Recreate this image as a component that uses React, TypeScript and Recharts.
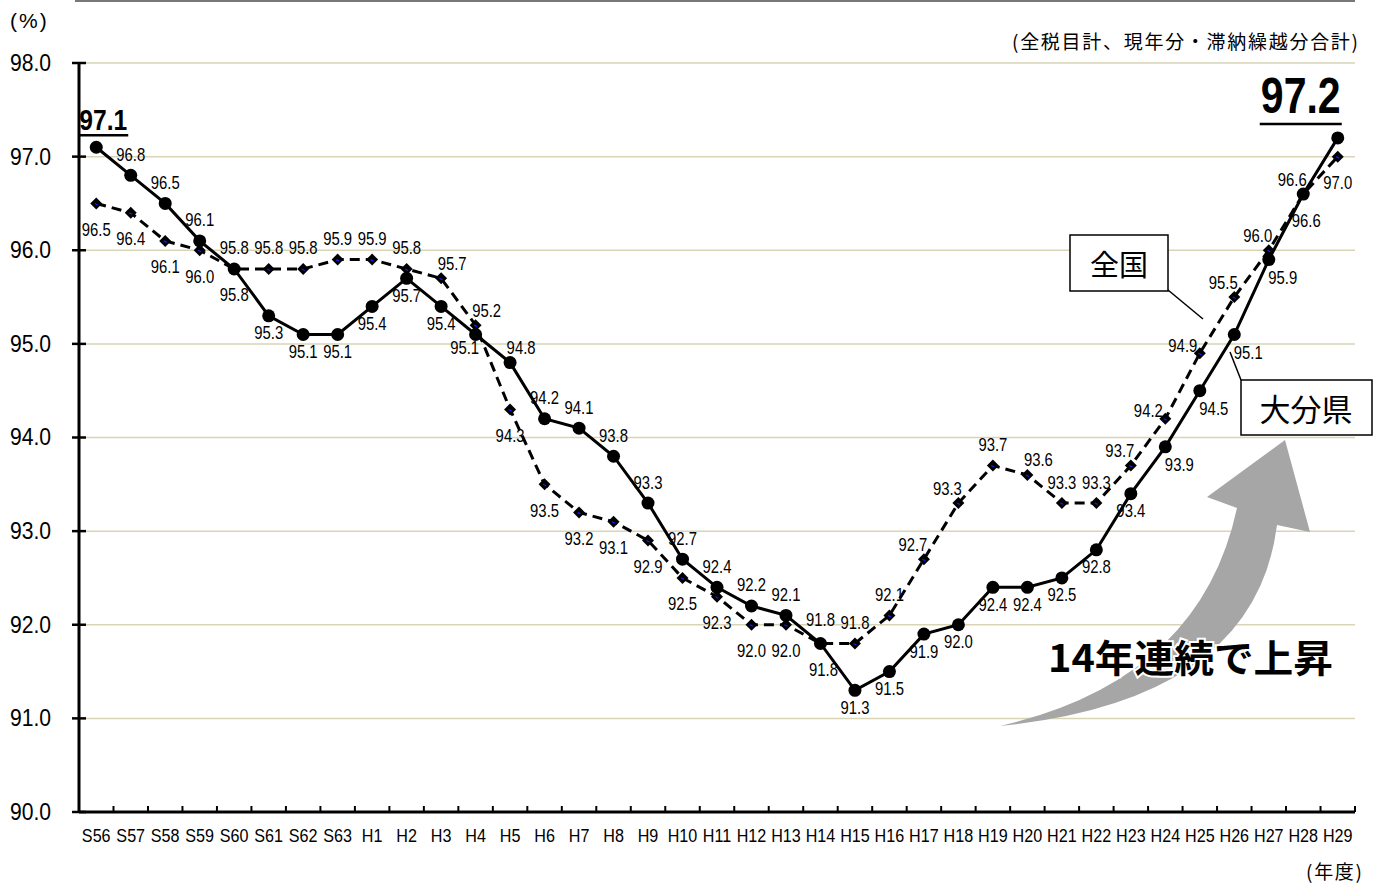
import { LineChart, Line, XAxis, YAxis, CartesianGrid, LabelList } from 'recharts';

// 年度
const years = [
  'S56', 'S57', 'S58', 'S59', 'S60', 'S61', 'S62', 'S63',
  'H1', 'H2', 'H3', 'H4', 'H5', 'H6', 'H7', 'H8', 'H9', 'H10',
  'H11', 'H12', 'H13', 'H14', 'H15', 'H16', 'H17', 'H18', 'H19', 'H20',
  'H21', 'H22', 'H23', 'H24', 'H25', 'H26', 'H27', 'H28', 'H29',
];

// 大分県 徴収率 (%)
const oita = [
  97.1, 96.8, 96.5, 96.1, 95.8, 95.3, 95.1, 95.1,
  95.4, 95.7, 95.4, 95.1, 94.8, 94.2, 94.1, 93.8, 93.3, 92.7,
  92.4, 92.2, 92.1, 91.8, 91.3, 91.5, 91.9, 92.0, 92.4, 92.4,
  92.5, 92.8, 93.4, 93.9, 94.5, 95.1, 95.9, 96.6, 97.2,
];

// 全国 徴収率 (%)
const national = [
  96.5, 96.4, 96.1, 96.0, 95.8, 95.8, 95.8, 95.9,
  95.9, 95.8, 95.7, 95.2, 94.3, 93.5, 93.2, 93.1, 92.9, 92.5,
  92.3, 92.0, 92.0, 91.8, 91.8, 92.1, 92.7, 93.3, 93.7, 93.6,
  93.3, 93.3, 93.7, 94.2, 94.9, 95.5, 96.0, 96.6, 97.0,
];

const yTicks = [90, 91, 92, 93, 94, 95, 96, 97, 98];

// where each data label sits relative to its point
const oitaLabelPos = [
  'big', 'n', 'n', 'n', 'n', 's', 's', 's',
  's', 's', 's', 'sw', 'ne', 'n', 'n', 'n', 'n', 'n',
  'n', 'n', 'n', 'S', 's', 's', 's', 's', 's', 's',
  's', 's', 's', 'se', 'se', 'se', 'se', 'S', 'big',
];
const nationalLabelPos = [
  's', 's', 's', 's', 's', 'n', 'n', 'n',
  'n', 'n', 'ne', 'ne', 's', 's', 's', 's', 's', 's',
  's', 's', 's', 'N', 'n', 'n', 'nw', 'nw', 'n', 'ne',
  'n', 'n', 'nw', 'w', 'w', 'nw', 'nw', 'nw', 's',
];

const OFFSETS: Record<string, [number, number]> = {
  n: [0, -21],
  N: [0, -24],
  s: [0, 17],
  S: [3, 26],
  ne: [11, -15],
  nw: [-11, -15],
  se: [14, 18],
  sw: [-11, 13],
  w: [-17, -8],
};
const NATIONAL_S = 26;

const SANS = '"Liberation Sans", Arial, sans-serif';
const JP = '"Noto Sans CJK JP", sans-serif';

const W = 1378;
const H = 884;
const PLOT_LEFT = 79;
const PLOT_RIGHT = 1355;
const AXIS_Y = 812;
const BAND = (PLOT_RIGHT - PLOT_LEFT) / years.length;

const data = years.map((year, i) => ({ year, oita: oita[i], national: national[i] }));

// Arial Narrow is not available, so squeeze Liberation Sans horizontally
const NText = ({ x, y, size, sx = 0.84, anchor = 'middle', bold = false, baseline = 'central', children }: any) => (
  <text
    transform={`translate(${x},${y}) scale(${sx},1)`}
    textAnchor={anchor}
    dominantBaseline={baseline}
    fontSize={size}
    fontWeight={bold ? 'bold' : 'normal'}
    fontFamily={SANS}
    fill="#000"
  >
    {children}
  </text>
);

const YTick = (props: any) => {
  const { y, payload } = props;
  return (
    <g>
      <line x1={PLOT_LEFT - 7} x2={PLOT_LEFT + 7} y1={y} y2={y} stroke="#000" strokeWidth={2.5} />
      <NText x={51} y={y} size={24} sx={0.88} anchor="end">
        {Number(payload.value).toFixed(1)}
      </NText>
    </g>
  );
};

const XTick = (props: any) => {
  const { x, payload } = props;
  const i = years.indexOf(payload.value);
  return (
    <g>
      {i > 0 && (
        <line x1={x - BAND / 2} x2={x - BAND / 2} y1={AXIS_Y - 6} y2={AXIS_Y} stroke="#000" strokeWidth={2} />
      )}
      {i === years.length - 1 && (
        <line x1={x + BAND / 2} x2={x + BAND / 2} y1={AXIS_Y - 6} y2={AXIS_Y} stroke="#000" strokeWidth={2} />
      )}
      <NText x={x} y={AXIS_Y + 24} size={19} sx={0.85}>
        {payload.value}
      </NText>
    </g>
  );
};

const makeLabel = (positions: string[], sDown: number) => (props: any) => {
  const { x, y, value, index } = props;
  const pos = positions[index];
  if (pos === 'big') {
    const first = index === 0;
    const size = first ? 30 : 50;
    const cx = first ? x + 7 : x - 37;
    const base = first ? y - 17 : y - 25;
    const half = first ? 25 : 41;
    const ul = first ? y - 12 : y - 14;
    return (
      <g>
        <NText x={cx} y={base} size={size} sx={0.82} bold baseline="alphabetic">
          {Number(value).toFixed(1)}
        </NText>
        <line x1={cx - half} x2={cx + half} y1={ul} y2={ul} stroke="#000" strokeWidth={2.5} />
      </g>
    );
  }
  let [dx, dy] = OFFSETS[pos];
  if (pos === 's') dy = sDown;
  return (
    <NText x={x + dx} y={y + dy} size={17.5} sx={0.85}>
      {Number(value).toFixed(1)}
    </NText>
  );
};

const CircleDot = (props: any) => {
  const { cx, cy, index } = props;
  return <circle key={`o-${index}`} cx={cx} cy={cy} r={6.5} fill="#000" />;
};

const DiamondDot = (props: any) => {
  const { cx, cy, index } = props;
  const r = 6;
  return (
    <g key={`d-${index}`}>
      <path d={`M${cx},${cy - r} L${cx + r},${cy} L${cx},${cy + r} L${cx - r},${cy} Z`} fill="#000" />
      <line x1={cx - 1.5} y1={cy} x2={cx + 1.5} y2={cy + 1.5} stroke="#1a1aff" strokeWidth={1.2} />
    </g>
  );
};

const Annotations = () => (
  <svg width={W} height={H} style={{ position: 'absolute', left: 0, top: 0, pointerEvents: 'none' }}>
    <line x1={75} x2={1355} y1={1} y2={1} stroke="#777" strokeWidth={2} />
    <text x={10} y={20} dominantBaseline="central" fontSize={21} fontFamily={SANS} letterSpacing={2} fill="#000">
      (%)
    </text>
    <text x={1358} y={40} textAnchor="end" dominantBaseline="central" fontSize={19} fontFamily={JP} fill="#000" textLength={346}>
      (全税目計、現年分・滞納繰越分合計)
    </text>
    <text x={1362} y={870} textAnchor="end" dominantBaseline="central" fontSize={19} fontFamily={JP} fill="#000" textLength={56}>
      (年度)
    </text>

    {/* 上昇の矢印 */}
    <path
      d="M1000,726 Q1200,680 1237,508 L1207,497 L1285,440 L1310,532 L1277,525 Q1255,700 1000,726 Z"
      fill="#a6a6a6"
    />
    <text
      x={1048}
      y={655}
      dominantBaseline="central"
      fontSize={38}
      fontWeight="bold"
      fontFamily={JP}
      textLength={285}
      lengthAdjust="spacingAndGlyphs"
      fill="#000"
      stroke="#fff"
      strokeWidth={4}
      paintOrder="stroke"
    >
      14年連続で上昇
    </text>

    {/* 凡例 */}
    <line x1={1168} y1={290} x2={1203} y2={319} stroke="#000" strokeWidth={1.5} />
    <rect x={1070} y={235} width={98} height={56} fill="#fff" stroke="#000" strokeWidth={1.5} />
    <text x={1119} y={263} textAnchor="middle" dominantBaseline="central" fontSize={29} fontFamily={JP} fill="#000">
      全国
    </text>
    <line x1={1230} y1={352} x2={1241} y2={380} stroke="#000" strokeWidth={1.5} />
    <rect x={1241} y={380} width={131} height={55} fill="#fff" stroke="#000" strokeWidth={1.5} />
    <text x={1306} y={407} textAnchor="middle" dominantBaseline="central" fontSize={31} fontFamily={JP} fill="#000">
      大分県
    </text>
  </svg>
);

export default function App() {
  return (
    <div style={{ position: 'relative', width: W, height: H, background: '#fff' }}>
      <style>{'body{margin:0}'}</style>
      <LineChart width={W} height={H} data={data} margin={{ top: 63, right: 23, bottom: 32, left: 19 }}>
        <CartesianGrid horizontal vertical={false} stroke="#d9d4b6" strokeWidth={1.5} />
        <XAxis
          dataKey="year"
          height={40}
          interval={0}
          padding={{ left: BAND / 2, right: BAND / 2 }}
          tickLine={false}
          axisLine={{ stroke: '#000', strokeWidth: 3 }}
          tick={<XTick />}
        />
        <YAxis
          width={60}
          domain={[90, 98]}
          ticks={yTicks}
          tickLine={false}
          axisLine={{ stroke: '#000', strokeWidth: 3 }}
          tick={<YTick />}
        />
        <Line
          dataKey="national"
          stroke="#000"
          strokeWidth={3}
          strokeDasharray="10 6"
          dot={DiamondDot}
          activeDot={false}
          isAnimationActive={false}
        >
          <LabelList dataKey="national" content={makeLabel(nationalLabelPos, NATIONAL_S)} />
        </Line>
        <Line
          dataKey="oita"
          stroke="#000"
          strokeWidth={3}
          dot={CircleDot}
          activeDot={false}
          isAnimationActive={false}
        >
          <LabelList dataKey="oita" content={makeLabel(oitaLabelPos, 17)} />
        </Line>
      </LineChart>
      <Annotations />
    </div>
  );
}
